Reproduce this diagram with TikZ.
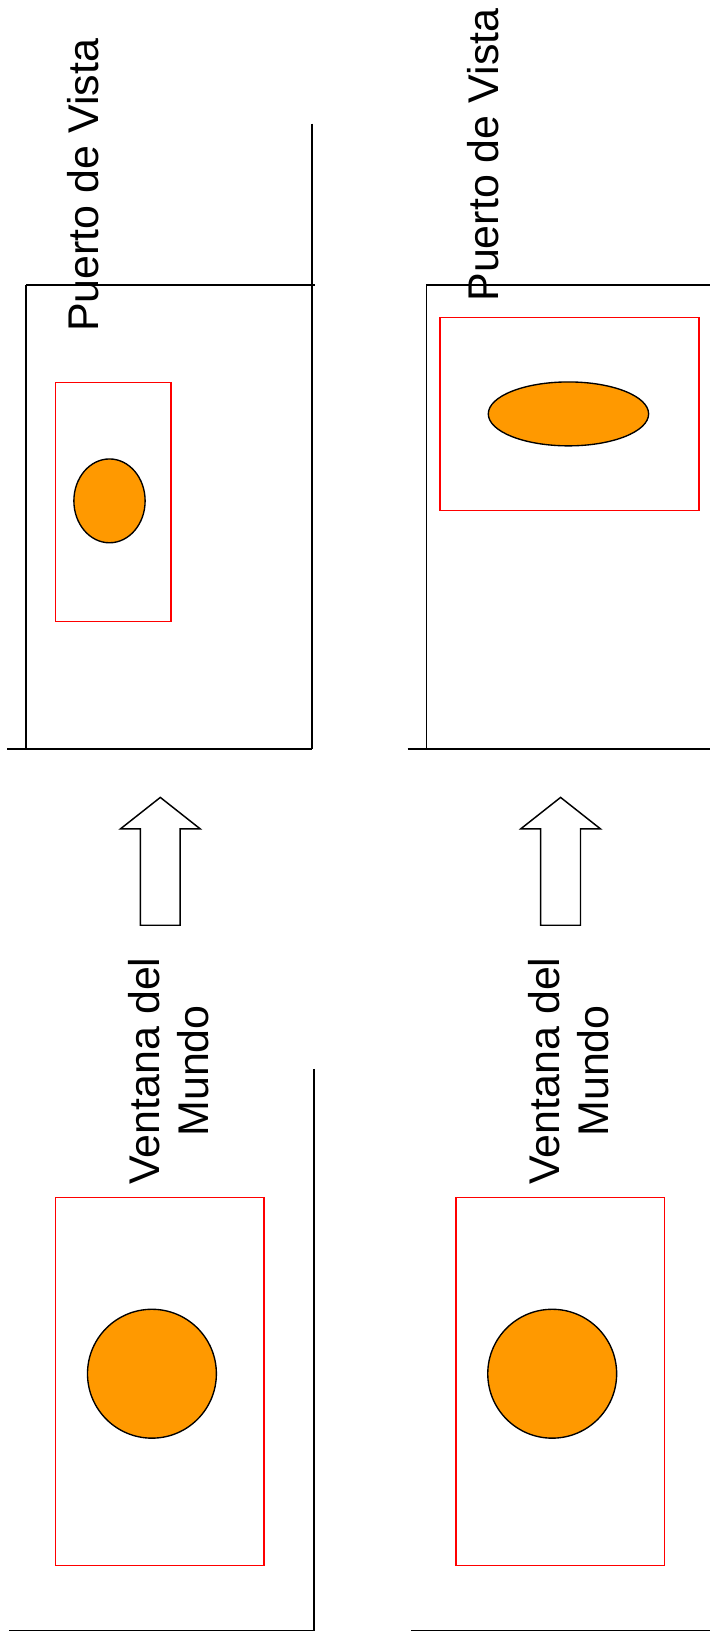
\documentclass[tikz,border=0pt]{standalone}
\usepackage{fontspec}
\setmainfont{Liberation Sans}
\begin{document}
\begin{tikzpicture}[x=1pt,y=-1pt,
  frame/.style={draw=black,line width=1.7pt},
  win/.style={draw=red,line width=1.4pt},
  ball/.style={draw=black,line width=1.3pt,fill={rgb,255:red,255;green,153;blue,0}},
  blockarrow/.style={draw=black,line width=1.4pt,fill=white,line join=miter},
  lbl/.style={rotate=90,anchor=base west,inner sep=0pt,font=\fontsize{41}{45}\selectfont},
  lblc/.style={rotate=90,anchor=base,inner sep=0pt,font=\fontsize{41}{45}\selectfont}]
\useasboundingbox (0,0) rectangle (678,1568);
% ---------- top left: viewport ----------
\draw[frame] (298,118) -- (298,715);
\draw[frame] (25,272) -- (301,272);
\draw[frame] (25,272) -- (25,715);
\draw[frame] (7,715) -- (298,715);
\draw[win] (53,365) rectangle (163,593);
\draw[ball] (104.5,478) ellipse [x radius=34, y radius=40];
\node[lbl] (pv1) at (94,317) {Puerto de Vista};
% ---------- top right: viewport ----------
\draw[frame] (407,272) -- (678,272);
\draw[frame] (407,272) -- (407,715);
\draw[frame] (389,715) -- (678,715);
\draw[win] (420,303) rectangle (667,487);
\draw[ball] (542.5,395) ellipse [x radius=76.5, y radius=30.5];
\node[lbl] (pv2) at (476,288) {Puerto de Vista};
% ---------- arrows ----------
\draw[blockarrow] (153,761) -- (191,791) -- (172,791) -- (172,883) -- (134,883) -- (134,791) -- (115,791) -- cycle;
\draw[blockarrow] (535,761) -- (573,791) -- (554,791) -- (554,883) -- (516,883) -- (516,791) -- (497,791) -- cycle;
% ---------- bottom left: world window ----------
\node[lblc] (vm1a) at (152,1022) {Ventana del};
\node[lblc] (vm1b) at (199,1022) {Mundo};
\draw[frame] (300,1020) -- (300,1556) -- (9,1556);
\draw[win] (53,1143) rectangle (252,1494);
\draw[ball] (145,1311) circle [radius=61.5];
% ---------- bottom right: world window ----------
\node[lblc] (vm2a) at (534,1022) {Ventana del};
\node[lblc] (vm2b) at (581,1022) {Mundo};
\draw[frame] (392,1556) -- (678,1556);
\draw[win] (435,1143) rectangle (634,1494);
\draw[ball] (527,1311) circle [radius=61.5];
\end{tikzpicture}
\end{document}
